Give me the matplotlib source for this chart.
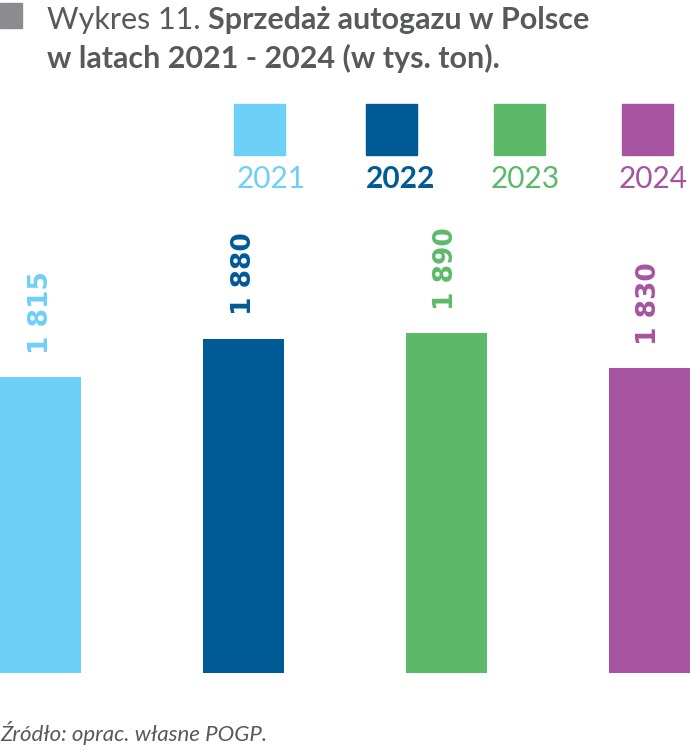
import matplotlib
matplotlib.use("Agg")
import matplotlib.pyplot as plt
from matplotlib.patches import Rectangle

# data
years = ["2021", "2022", "2023", "2024"]
sales = [1815, 1880, 1890, 1830]
value_labels = ["1 815", "1 880", "1 890", "1 830"]
colors = ["#6dd0f7", "#005a96", "#5cb96a", "#a654a0"]

title_light = "Wykres 11. "
title_bold = "Sprzedaż autogazu w Polsce"
title_line2 = "w latach 2021 - 2024 (w tys. ton)."
source = "Źródło: oprac. własne POGP."

text_grey = "#58595b"

fig = plt.figure(figsize=(6.9, 7.53), dpi=100)
W, H = 690, 753

# axes placed in pixel terms
ax = fig.add_axes([0, 1 - 673 / H, 1, (673 - 205) / H])
x = list(range(len(years)))
ax.bar(x, sales, width=0.4, color=colors)
ax.set_xlim(-0.2, 3.2)
ax.set_ylim(1311, 1311 + 468 / 0.587)
ax.axis("off")

# value labels, rotated
for xi, v, lab, c in zip(x, sales, value_labels, colors):
    ax.annotate(lab, xy=(xi, v), xytext=(0, 17), textcoords="offset points",
                rotation=90, ha="center", va="bottom", color=c,
                fontsize=19, fontweight="bold", family="DejaVu Sans")

# legend: squares with year below
sq_left = [234, 366, 494, 622]
txt_left = [237, 366, 491, 619]
weights = ["normal", "bold", "normal", "normal"]
for sx, tx, yr, c, wt in zip(sq_left, txt_left, years, colors, weights):
    fig.add_artist(Rectangle((sx / W, 1 - 155 / H), 51 / W, 51 / H,
                             transform=fig.transFigure, color=c))
    fig.text(tx / W, 1 - 179 / H, yr, color=c, fontsize=21.5,
             family="Lato", fontweight=wt, ha="left", va="center")

# title
fig.add_artist(Rectangle((0, 1 - 28 / H), 22 / W, 25 / H,
                         transform=fig.transFigure, color="#8c8c90"))
t1 = fig.text(47 / W, 1 - 34 / H, title_light, color=text_grey, fontsize=22,
              family="Lato", ha="left", va="bottom")
plt.annotate(title_bold, xy=(1, 0), xycoords=t1, color=text_grey,
             fontsize=22, family="Lato", fontweight="bold",
             ha="left", va="bottom")
fig.text(47 / W, 1 - 73 / H, title_line2, color=text_grey, fontsize=22,
         family="Lato", fontweight="bold", ha="left", va="bottom")

# source
fig.text(0, 1 - 745 / H, source, color=text_grey, fontsize=16,
         family="Lato", style="italic", ha="left", va="bottom")

fig.savefig("out.png", dpi=100, facecolor="white")
